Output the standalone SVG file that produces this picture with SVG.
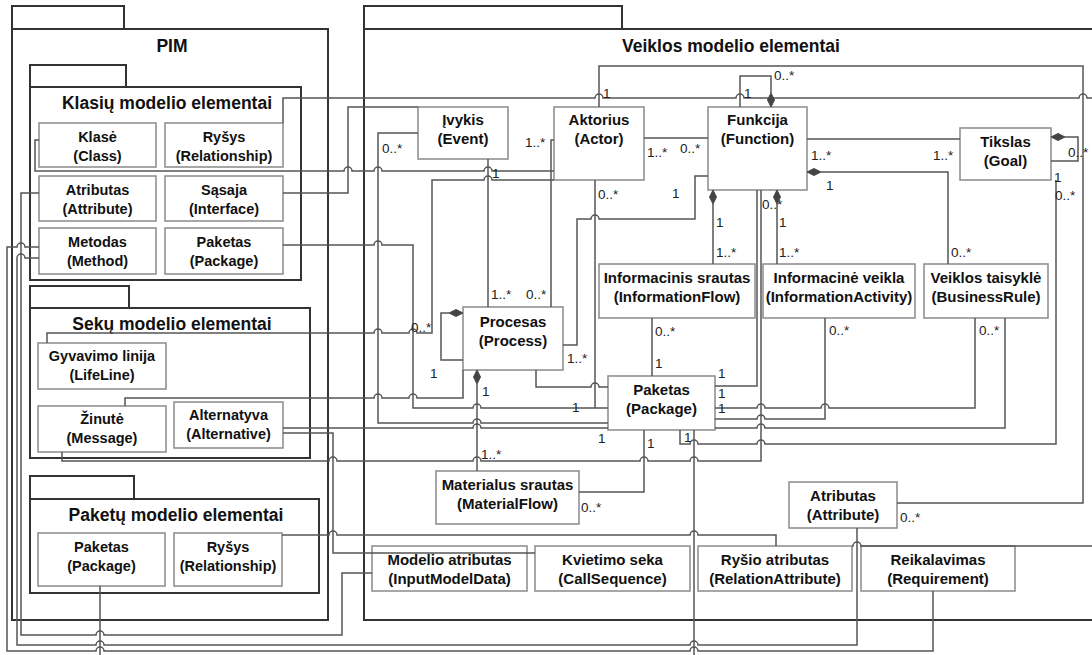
<svg xmlns="http://www.w3.org/2000/svg" width="1092" height="655" viewBox="0 0 1092 655">
<style>
.pkg{fill:none;stroke:#333;stroke-width:2}
.nd rect{fill:#fff;stroke:#8a8a8a;stroke-width:1.5}
.nt{font-family:"Liberation Sans",Arial,sans-serif;font-weight:bold;font-size:15px;fill:#111;text-anchor:middle}
.pn .nt{font-size:14.5px}
.ttl{font-family:"Liberation Sans",Arial,sans-serif;font-weight:bold;font-size:17.5px;fill:#111;text-anchor:middle}
.cn path{fill:none;stroke:#555;stroke-width:1.5}
.dia{fill:#444;stroke:#444;stroke-width:1}
.lb{font-family:"Liberation Sans",Arial,sans-serif;font-size:13.5px;fill:#222}
</style>
<defs>
<path id="dv" d="M0,0 L3.5,7 L0,14 L-3.5,7 Z"/>
<path id="dh" d="M0,0 L7,-3.5 L14,0 L7,3.5 Z"/>
</defs>
<rect width="1092" height="655" fill="#fff"/>

<!-- packages -->
<g id="pkg-pim">
<path class="pkg" d="M12,29 V6 H124 V29"/>
<rect class="pkg" x="12" y="29" width="316" height="591"/>
<text class="ttl" x="172" y="52">PIM</text>
</g>
<g id="pkg-klasiu">
<path class="pkg" d="M30,87 V65 H126 V87"/>
<rect class="pkg" x="30" y="87" width="271" height="193"/>
<text class="ttl" x="167" y="109">Klasių modelio elementai</text>
</g>
<g id="pkg-seku">
<path class="pkg" d="M30,308 V286 H129 V308"/>
<rect class="pkg" x="30" y="308" width="280" height="150"/>
<text class="ttl" x="172" y="330">Sekų modelio elementai</text>
</g>
<g id="pkg-paketu">
<path class="pkg" d="M30,499 V476 H134 V499"/>
<rect class="pkg" x="30" y="499" width="289" height="94"/>
<text class="ttl" x="176" y="521">Paketų modelio elementai</text>
</g>
<g id="pkg-veiklos">
<path class="pkg" d="M364,29 V6 H622 V29"/>
<path class="pkg" d="M1092,29 H364 V620 H1092"/>
<text class="ttl" x="731" y="52">Veiklos modelio elementai</text>
</g>

<!-- PIM nodes -->
<g class="nd pn" id="n-klase"><rect x="39" y="123" width="117" height="44"/><text class="nt" x="97.5" y="142">Klasė</text><text class="nt" x="97.5" y="161">(Class)</text></g>
<g class="nd pn" id="n-rysys-k"><rect x="165" y="123" width="118" height="44"/><text class="nt" x="224" y="142">Ryšys</text><text class="nt" x="224" y="161">(Relationship)</text></g>
<g class="nd pn" id="n-atributas-k"><rect x="39" y="176" width="117" height="45"/><text class="nt" x="97.5" y="195">Atributas</text><text class="nt" x="97.5" y="214">(Attribute)</text></g>
<g class="nd pn" id="n-sasaja"><rect x="165" y="176" width="118" height="45"/><text class="nt" x="224" y="195">Sąsaja</text><text class="nt" x="224" y="214">(Interface)</text></g>
<g class="nd pn" id="n-metodas"><rect x="39" y="228" width="117" height="46"/><text class="nt" x="97.5" y="247">Metodas</text><text class="nt" x="97.5" y="266">(Method)</text></g>
<g class="nd pn" id="n-paketas-k"><rect x="165" y="228" width="118" height="46"/><text class="nt" x="224" y="247">Paketas</text><text class="nt" x="224" y="266">(Package)</text></g>
<g class="nd pn" id="n-gyvavimo"><rect x="38" y="343" width="128" height="46"/><text class="nt" x="102" y="361">Gyvavimo linija</text><text class="nt" x="102" y="380">(LifeLine)</text></g>
<g class="nd pn" id="n-zinute"><rect x="38" y="406" width="128" height="46"/><text class="nt" x="102" y="424">Žinutė</text><text class="nt" x="102" y="443">(Message)</text></g>
<g class="nd pn" id="n-alternatyva"><rect x="174" y="402" width="109" height="46"/><text class="nt" x="228.5" y="420">Alternatyva</text><text class="nt" x="228.5" y="439">(Alternative)</text></g>
<g class="nd pn" id="n-paketas-p"><rect x="38" y="533" width="127" height="53"/><text class="nt" x="101.5" y="552">Paketas</text><text class="nt" x="101.5" y="571">(Package)</text></g>
<g class="nd pn" id="n-rysys-p"><rect x="174" y="533" width="108" height="53"/><text class="nt" x="228" y="552">Ryšys</text><text class="nt" x="228" y="571">(Relationship)</text></g>

<!-- Veiklos nodes -->
<g class="nd" id="n-ivykis"><rect x="418" y="107" width="90" height="52"/><text class="nt" x="463" y="125">Įvykis</text><text class="nt" x="463" y="144">(Event)</text></g>
<g class="nd" id="n-aktorius"><rect x="554" y="107" width="90" height="73"/><text class="nt" x="599" y="125">Aktorius</text><text class="nt" x="599" y="144">(Actor)</text></g>
<g class="nd" id="n-funkcija"><rect x="708" y="107" width="99" height="83"/><text class="nt" x="757.5" y="125">Funkcija</text><text class="nt" x="757.5" y="144">(Function)</text></g>
<g class="nd" id="n-tikslas"><rect x="960" y="128" width="91" height="52"/><text class="nt" x="1005.5" y="147">Tikslas</text><text class="nt" x="1005.5" y="166">(Goal)</text></g>
<g class="nd" id="n-procesas"><rect x="463" y="307" width="100" height="63"/><text class="nt" x="513" y="327">Procesas</text><text class="nt" x="513" y="346">(Process)</text></g>
<g class="nd" id="n-infoflow"><rect x="599" y="264" width="156" height="54"/><text class="nt" x="677" y="283">Informacinis srautas</text><text class="nt" x="677" y="302">(InformationFlow)</text></g>
<g class="nd" id="n-infoact"><rect x="763" y="264" width="152" height="54"/><text class="nt" x="839" y="283">Informacinė veikla</text><text class="nt" x="839" y="302">(InformationActivity)</text></g>
<g class="nd" id="n-bizrule"><rect x="924" y="264" width="124" height="54"/><text class="nt" x="986" y="283">Veiklos taisyklė</text><text class="nt" x="986" y="302">(BusinessRule)</text></g>
<g class="nd" id="n-paketas-c"><rect x="608" y="376" width="107" height="54"/><text class="nt" x="661.5" y="395">Paketas</text><text class="nt" x="661.5" y="414">(Package)</text></g>
<g class="nd" id="n-matflow"><rect x="436" y="471" width="143" height="53"/><text class="nt" x="507.5" y="490">Materialus srautas</text><text class="nt" x="507.5" y="509">(MaterialFlow)</text></g>
<g class="nd" id="n-atributas-v"><rect x="789" y="482" width="108" height="46"/><text class="nt" x="843" y="501">Atributas</text><text class="nt" x="843" y="520">(Attribute)</text></g>
<g class="nd" id="n-modelio"><rect x="372" y="546" width="155" height="45"/><text class="nt" x="449.5" y="565">Modelio atributas</text><text class="nt" x="449.5" y="584">(InputModelData)</text></g>
<g class="nd" id="n-kvietimo"><rect x="535" y="546" width="155" height="45"/><text class="nt" x="612.5" y="565">Kvietimo seka</text><text class="nt" x="612.5" y="584">(CallSequence)</text></g>
<g class="nd" id="n-rysio"><rect x="698" y="546" width="154" height="45"/><text class="nt" x="775" y="565">Ryšio atributas</text><text class="nt" x="775" y="584">(RelationAttribute)</text></g>
<g class="nd" id="n-reikalavimas"><rect x="861" y="546" width="154" height="45"/><text class="nt" x="938" y="565">Reikalavimas</text><text class="nt" x="938" y="584">(Requirement)</text></g>

<!-- connectors -->
<g class="cn" id="connectors">
<path d="M283,123 V98 H595 a4,4 0 0 1 8,0 H736 a4,4 0 0 1 8,0 H1079 a4,4 0 0 1 8,0 H1092"/>
<path d="M599,107 V66 H1083 V503 H897"/>
<path d="M39,140 H35 V171 H344 a4,4 0 0 1 8,0 H374 a4,4 0 0 1 8,0 H484 a4,4 0 0 1 8,0 H554"/>
<path d="M283,193 H348 V107 H418"/>
<path d="M39,193 H21 V635 H96 a4,4 0 0 1 8,0 H342 V573 H372"/>
<path d="M39,247 H25 a4,4 0 0 0 -8,0 H7 V651 H96 a4,4 0 0 1 8,0 H690 a4,4 0 0 1 8,0 H933 V591"/>
<path d="M39,258 H25 a4,4 0 0 0 -8,0 H17 V645 H96 a4,4 0 0 1 8,0 H690 a4,4 0 0 1 8,0 H857 V528"/>
<path d="M283,245 H374 a4,4 0 0 1 8,0 H413 V408 H473 a4,4 0 0 1 8,0 H608"/>
<path d="M418,133 H378 V423 H473 a4,4 0 0 1 8,0 H608"/>
<path d="M283,428 H473 a4,4 0 0 1 8,0 H608"/>
<path d="M47,343 V333 H374 a4,4 0 0 1 8,0 H409 a4,4 0 0 1 8,0 H432 V180 H484 a4,4 0 0 1 8,0 H554"/>
<path d="M125,406 V398 H374 a4,4 0 0 1 8,0 H409 a4,4 0 0 1 8,0 H463 V370"/>
<path d="M449,313 H441 V360 H463"/>
<path d="M477,384 V471"/>
<path d="M488,159 V307"/>
<path d="M554,140 H551 V307"/>
<path d="M644,138 H708"/>
<path d="M563,345 H577 V219 H591 a4,4 0 0 1 8,0 H695 V176 H708"/>
<path d="M595,180 V408"/>
<path d="M536,370 V387 H591 a4,4 0 0 1 8,0 H608"/>
<path d="M652,318 V376"/>
<path d="M757,190 V386 H715"/>
<path d="M713,204 V264"/>
<path d="M777,204 V264"/>
<path d="M821,172 H948 V264"/>
<path d="M807,139 H960"/>
<path d="M740,107 V76 H771 V93"/>
<path d="M1065,137 H1078 V161 H1051"/>
<path d="M1056,180 V444 H765 a4,4 0 0 0 -8,0 H698 a4,4 0 0 0 -8,0 H680 V430"/>
<path d="M825,318 V419 H765 a4,4 0 0 0 -8,0 H715"/>
<path d="M975,318 V408 H829 a4,4 0 0 0 -8,0 H765 a4,4 0 0 0 -8,0 H715"/>
<path d="M1005,318 V428 H765 a4,4 0 0 0 -8,0 H715"/>
<path d="M62,452 V461 H329 a4,4 0 0 1 8,0 H473 a4,4 0 0 1 8,0 H640 a4,4 0 0 1 8,0 H690 a4,4 0 0 1 8,0 H761 V190"/>
<path d="M579,492 H644 V430"/>
<path d="M694,430 V655"/>
<path d="M282,535 H329 a4,4 0 0 1 8,0 H690 a4,4 0 0 1 8,0 H776 V546"/>
<path d="M283,433 H333 V553 H535"/>
<path d="M852,546 H853 a4,4 0 0 1 8,0 H1092"/>
<path d="M100,586 V655"/>
<use href="#dv" class="dia" x="771" y="93"/>
<use href="#dv" class="dia" x="713" y="190"/>
<use href="#dv" class="dia" x="777" y="190"/>
<use href="#dv" class="dia" x="477" y="370"/>
<use href="#dh" class="dia" x="807" y="172"/>
<use href="#dh" class="dia" x="449" y="313"/>
<use href="#dh" class="dia" x="1051" y="137"/>
</g>

<!-- multiplicities -->
<g id="labels">
<text class="lb" x="382" y="153">0..*</text>
<text class="lb" x="525" y="147">1..*</text>
<text class="lb" x="492" y="178">1</text>
<text class="lb" x="603" y="98">1</text>
<text class="lb" x="647" y="157">1..*</text>
<text class="lb" x="680" y="153">0..*</text>
<text class="lb" x="598" y="199">0..*</text>
<text class="lb" x="672" y="198">1</text>
<text class="lb" x="744" y="98">1</text>
<text class="lb" x="774" y="80">0..*</text>
<text class="lb" x="811" y="160">1..*</text>
<text class="lb" x="933" y="160">1..*</text>
<text class="lb" x="826" y="190">1</text>
<text class="lb" x="1068" y="157">0..*</text>
<text class="lb" x="1054" y="182">1</text>
<text class="lb" x="1055" y="200">0..*</text>
<text class="lb" x="762" y="209">0..*</text>
<text class="lb" x="716" y="227">1</text>
<text class="lb" x="716" y="257">1..*</text>
<text class="lb" x="779" y="227">1</text>
<text class="lb" x="779" y="257">1..*</text>
<text class="lb" x="951" y="257">0..*</text>
<text class="lb" x="655" y="336">0..*</text>
<text class="lb" x="655" y="368">1</text>
<text class="lb" x="829" y="335">0..*</text>
<text class="lb" x="979" y="335">0..*</text>
<text class="lb" x="491" y="299">1..*</text>
<text class="lb" x="526" y="299">0..*</text>
<text class="lb" x="411" y="332">0..*</text>
<text class="lb" x="430" y="378">1</text>
<text class="lb" x="567" y="363">1..*</text>
<text class="lb" x="482" y="396">1</text>
<text class="lb" x="572" y="412">1</text>
<text class="lb" x="598" y="443">1</text>
<text class="lb" x="647" y="448">1</text>
<text class="lb" x="684" y="442">1</text>
<text class="lb" x="718" y="378">1</text>
<text class="lb" x="718" y="398">1</text>
<text class="lb" x="718" y="413">1</text>
<text class="lb" x="481" y="459">1..*</text>
<text class="lb" x="581" y="512">0..*</text>
<text class="lb" x="900" y="522">0..*</text>
</g>
</svg>
